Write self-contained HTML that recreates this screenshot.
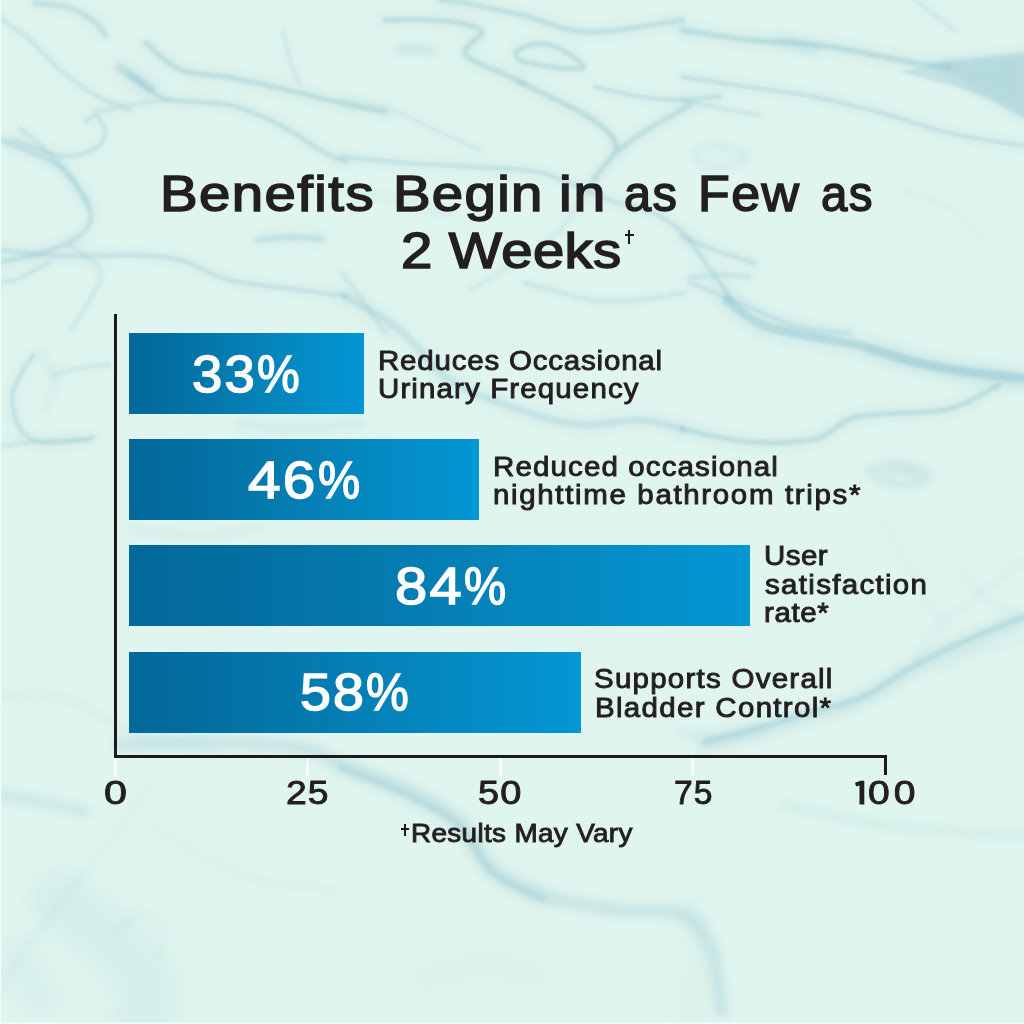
<!DOCTYPE html>
<html>
<head>
<meta charset="utf-8">
<title>Benefits Begin in as Few as 2 Weeks</title>
<style>
html,body{margin:0;padding:0;}
body{width:1024px;height:1024px;overflow:hidden;position:relative;background:#def3f0;font-family:"Liberation Sans",sans-serif;color:#231f20;}
#bg{position:absolute;left:0;top:0;width:1024px;height:1024px;}
.t{position:absolute;white-space:nowrap;line-height:1;transform-origin:0 0;margin:0;padding:0;}
.title{-webkit-text-stroke:1.6px #231f20;}
.lab{-webkit-text-stroke:0.9px #231f20;}
.pct{color:#fff;-webkit-text-stroke:1.4px #fff;}
.ax{-webkit-text-stroke:0.9px #231f20;}
.bar{position:absolute;left:129px;height:81px;background:linear-gradient(90deg,#03699a 0%,#036d9f 14%,#0580b6 52%,#0397d4 100%);}
.line{position:absolute;background:#1d1a1b;}
.tick{position:absolute;width:2.6px;height:17.5px;top:758.4px;background:#f3fcfa;opacity:.9;}
.dg{position:absolute;}
</style>
</head>
<body>
<svg id="bg" width="1024" height="1024" viewBox="0 0 1024 1024">
<defs>
<filter id="bs" filterUnits="userSpaceOnUse" x="-100" y="-100" width="1224" height="1224"><feGaussianBlur stdDeviation="1.0"/></filter>
<filter id="bm" filterUnits="userSpaceOnUse" x="-100" y="-100" width="1224" height="1224"><feGaussianBlur stdDeviation="1.5"/></filter>
<filter id="bl" filterUnits="userSpaceOnUse" x="-100" y="-100" width="1224" height="1224"><feGaussianBlur stdDeviation="4.5"/></filter>
<filter id="bx" filterUnits="userSpaceOnUse" x="-100" y="-100" width="1224" height="1224"><feGaussianBlur stdDeviation="10"/></filter>
<filter id="bh" filterUnits="userSpaceOnUse" x="-100" y="-100" width="1224" height="1224"><feGaussianBlur stdDeviation="6"/></filter>
</defs>
<rect width="1024" height="1024" fill="#e0f5ef"/>
<g filter="url(#bh)" fill="none" stroke="#8cc0ce" stroke-linecap="round" stroke-linejoin="round">
<path d="M0.0,18.0 C5.0,21.7 20.0,31.3 30.0,40.0 C40.0,48.7 49.2,60.8 60.0,70.0 C70.8,79.2 83.3,88.3 95.0,95.0 C106.7,101.7 124.2,107.5 130.0,110.0" stroke-width="12.0" opacity="0.075"/>
<path d="M35.0,3.0 C40.8,3.8 60.0,4.8 70.0,8.0 C80.0,11.2 89.2,17.5 95.0,22.0 C100.8,26.5 103.3,32.8 105.0,35.0" stroke-width="16.0" opacity="0.105"/>
<path d="M146.0,43.0 C149.2,45.8 158.2,55.2 165.0,60.0 C171.8,64.8 175.7,69.0 187.0,72.0 C198.3,75.0 214.2,74.5 233.0,78.0 C251.8,81.5 282.0,88.8 300.0,93.0 C318.0,97.2 326.8,99.8 341.0,103.0 C355.2,106.2 377.7,110.5 385.0,112.0" stroke-width="14.0" opacity="0.135"/>
<path d="M130.0,75.0 C133.3,77.5 143.3,85.8 150.0,90.0 C156.7,94.2 156.7,97.5 170.0,100.0 C183.3,102.5 211.7,100.8 230.0,105.0 C248.3,109.2 265.0,117.5 280.0,125.0 C295.0,132.5 309.2,143.8 320.0,150.0 C330.8,156.2 340.8,160.0 345.0,162.0" stroke-width="12.0" opacity="0.120"/>
<path d="M120.0,68.0 C123.0,70.0 133.0,76.7 138.0,80.0 C143.0,83.3 148.0,86.7 150.0,88.0" stroke-width="24.0" opacity="0.105"/>
<path d="M85.0,122.0 C87.0,121.0 93.7,113.8 97.0,116.0 C100.3,118.2 105.8,129.3 105.0,135.0 C104.2,140.7 99.2,146.5 92.0,150.0 C84.8,153.5 72.3,156.7 62.0,156.0 C51.7,155.3 38.3,148.7 30.0,146.0 C21.7,143.3 15.0,141.0 12.0,140.0" stroke-width="10.0" opacity="0.105"/>
<path d="M0.0,140.0 C5.0,142.0 20.0,147.5 30.0,152.0 C40.0,156.5 50.8,159.0 60.0,167.0 C69.2,175.0 80.0,190.8 85.0,200.0 C90.0,209.2 92.5,215.0 90.0,222.0 C87.5,229.0 80.0,236.3 70.0,242.0 C60.0,247.7 41.7,252.7 30.0,256.0 C18.3,259.3 5.0,261.0 0.0,262.0" stroke-width="14.0" opacity="0.105"/>
<path d="M20.0,128.0 C24.2,131.7 36.7,142.2 45.0,150.0 C53.3,157.8 62.5,165.8 70.0,175.0 C77.5,184.2 86.7,200.0 90.0,205.0" stroke-width="12.0" opacity="0.075"/>
<path d="M0.0,250.0 C10.0,251.0 38.3,255.2 60.0,256.0 C81.7,256.8 110.0,254.3 130.0,255.0 C150.0,255.7 163.3,255.8 180.0,260.0 C196.7,264.2 210.0,275.0 230.0,280.0 C250.0,285.0 280.8,287.3 300.0,290.0 C319.2,292.7 337.5,295.0 345.0,296.0" stroke-width="12.0" opacity="0.105"/>
<path d="M258.0,240.0 C263.3,239.5 279.3,237.2 290.0,237.0 C300.7,236.8 316.7,238.7 322.0,239.0" stroke-width="16.0" opacity="0.105"/>
<path d="M0.0,283.0 C3.3,282.2 11.7,281.5 20.0,278.0 C28.3,274.5 45.0,264.7 50.0,262.0" stroke-width="12.0" opacity="0.075"/>
<path d="M70.0,245.0 C75.0,249.2 96.7,260.8 100.0,270.0 C103.3,279.2 95.0,290.0 90.0,300.0 C85.0,310.0 73.3,325.0 70.0,330.0" stroke-width="12.0" opacity="0.060"/>
<path d="M283.0,30.0 C284.2,35.0 287.2,50.8 290.0,60.0 C292.8,69.2 298.3,80.8 300.0,85.0" stroke-width="10.0" opacity="0.060"/>
<path d="M170.0,100.0 C163.3,100.8 142.5,103.0 130.0,105.0 C117.5,107.0 100.8,110.8 95.0,112.0" stroke-width="10.0" opacity="0.075"/>
<path d="M440.0,0.0 C445.0,0.7 460.2,2.3 470.0,4.0 C479.8,5.7 489.2,7.8 499.0,10.0 C508.8,12.2 519.0,14.2 529.0,17.0 C539.0,19.8 549.7,24.5 559.0,27.0 C568.3,29.5 574.8,31.5 585.0,32.0 C595.2,32.5 603.7,32.0 620.0,30.0 C636.3,28.0 672.5,21.7 683.0,20.0" stroke-width="14.0" opacity="0.120"/>
<path d="M385.0,20.0 C392.5,20.0 416.7,19.3 430.0,20.0 C443.3,20.7 456.3,22.0 465.0,24.0 C473.7,26.0 481.2,28.7 482.0,32.0 C482.8,35.3 472.8,40.3 470.0,44.0 C467.2,47.7 463.3,50.7 465.0,54.0 C466.7,57.3 473.8,60.8 480.0,64.0 C486.2,67.2 495.0,69.8 502.0,73.0 C509.0,76.2 518.7,81.3 522.0,83.0" stroke-width="14.0" opacity="0.135"/>
<path d="M522.0,83.0 C525.3,84.7 532.0,88.0 542.0,93.0 C552.0,98.0 570.8,106.3 582.0,113.0 C593.2,119.7 603.3,126.8 609.0,133.0 C614.7,139.2 617.0,144.3 616.0,150.0 C615.0,155.7 606.5,162.3 603.0,167.0 C599.5,171.7 596.3,176.2 595.0,178.0" stroke-width="14.0" opacity="0.135"/>
<path d="M515.0,52.0 C517.5,50.8 524.2,46.2 530.0,45.0 C535.8,43.8 542.5,42.8 550.0,45.0 C557.5,47.2 569.5,54.2 575.0,58.0 C580.5,61.8 585.5,66.3 583.0,68.0 C580.5,69.7 568.0,68.7 560.0,68.0 C552.0,67.3 541.8,65.3 535.0,64.0 C528.2,62.7 522.3,62.0 519.0,60.0 C515.7,58.0 515.7,53.3 515.0,52.0" stroke-width="12.0" opacity="0.135"/>
<path d="M619.0,150.0 C622.8,147.2 633.7,138.5 642.0,133.0 C650.3,127.5 661.0,121.7 669.0,117.0 C677.0,112.3 686.5,107.0 690.0,105.0" stroke-width="14.0" opacity="0.120"/>
<path d="M595.0,87.0 C602.8,88.7 627.3,94.8 642.0,97.0 C656.7,99.2 670.0,100.2 683.0,100.0 C696.0,99.8 713.8,96.7 720.0,96.0" stroke-width="12.0" opacity="0.105"/>
<path d="M342.0,157.0 C353.2,158.0 386.8,161.3 409.0,163.0 C431.2,164.7 452.8,165.3 475.0,167.0 C497.2,168.7 519.7,167.5 542.0,173.0 C564.3,178.5 590.7,193.5 609.0,200.0 C627.3,206.5 639.7,206.5 652.0,212.0 C664.3,217.5 674.2,224.7 683.0,233.0 C691.8,241.3 696.8,250.8 705.0,262.0 C713.2,273.2 727.5,293.7 732.0,300.0" stroke-width="12.0" opacity="0.105"/>
<path d="M342.0,100.0 C350.3,101.7 375.3,104.5 392.0,110.0 C408.7,115.5 427.3,126.3 442.0,133.0 C456.7,139.7 473.7,147.2 480.0,150.0" stroke-width="10.0" opacity="0.060"/>
<path d="M342.0,273.0 C345.3,277.5 354.8,290.0 362.0,300.0 C369.2,310.0 381.2,327.5 385.0,333.0" stroke-width="12.0" opacity="0.075"/>
<path d="M525.0,283.0 C536.2,285.8 572.8,297.2 592.0,300.0 C611.2,302.8 624.8,301.2 640.0,300.0 C655.2,298.8 675.8,294.2 683.0,293.0" stroke-width="12.0" opacity="0.075"/>
<path d="M595.0,178.0 C589.2,186.7 572.5,216.3 560.0,230.0 C547.5,243.7 535.0,250.0 520.0,260.0 C505.0,270.0 478.3,285.0 470.0,290.0" stroke-width="12.0" opacity="0.054"/>
<path d="M682.0,30.0 C693.2,31.7 729.5,37.8 749.0,40.0 C768.5,42.2 782.3,41.3 799.0,43.0 C815.7,44.7 829.7,46.7 849.0,50.0 C868.3,53.3 898.3,60.2 915.0,63.0 C931.7,65.8 943.3,66.3 949.0,67.0" stroke-width="16.0" opacity="0.135"/>
<path d="M682.0,77.0 C693.2,78.7 726.8,83.7 749.0,87.0 C771.2,90.3 792.8,92.7 815.0,97.0 C837.2,101.3 859.7,107.0 882.0,113.0 C904.3,119.0 925.3,127.5 949.0,133.0 C972.7,138.5 1011.5,143.8 1024.0,146.0" stroke-width="12.0" opacity="0.105"/>
<path d="M682.0,100.0 C688.3,101.3 707.0,105.5 720.0,108.0 C733.0,110.5 753.3,113.8 760.0,115.0" stroke-width="10.0" opacity="0.075"/>
<path d="M682.0,236.0 C687.5,238.3 702.8,245.5 715.0,250.0 C727.2,254.5 748.3,260.8 755.0,263.0" stroke-width="12.0" opacity="0.105"/>
<path d="M690.0,278.0 C695.0,277.5 710.0,275.2 720.0,275.0 C730.0,274.8 745.0,276.7 750.0,277.0" stroke-width="12.0" opacity="0.090"/>
<path d="M690.0,283.0 C695.0,285.0 710.2,291.0 720.0,295.0 C729.8,299.0 735.8,301.7 749.0,307.0 C762.2,312.3 782.3,322.7 799.0,327.0 C815.7,331.3 840.7,332.0 849.0,333.0" stroke-width="12.0" opacity="0.090"/>
<path d="M915.0,0.0 C918.3,2.5 928.3,10.0 935.0,15.0 C941.7,20.0 951.7,27.5 955.0,30.0" stroke-width="12.0" opacity="0.060"/>
<path d="M33.0,355.0 C29.7,361.2 15.2,379.7 13.0,392.0 C10.8,404.3 15.0,420.7 20.0,429.0 C25.0,437.3 32.5,440.2 43.0,442.0 C53.5,443.8 74.7,440.8 83.0,440.0 C91.3,439.2 91.3,437.5 93.0,437.0" stroke-width="12.0" opacity="0.105"/>
<path d="M0.0,446.0 C5.5,445.3 18.0,443.2 33.0,442.0 C48.0,440.8 80.5,439.5 90.0,439.0" stroke-width="10.0" opacity="0.075"/>
<path d="M53.0,375.0 C57.5,373.8 70.5,369.7 80.0,368.0 C89.5,366.3 105.0,365.5 110.0,365.0" stroke-width="10.0" opacity="0.075"/>
<path d="M345.0,296.0 C354.2,301.7 382.5,316.0 400.0,330.0 C417.5,344.0 430.0,366.7 450.0,380.0 C470.0,393.3 498.3,402.5 520.0,410.0 C541.7,417.5 560.0,423.3 580.0,425.0 C600.0,426.7 623.0,419.3 640.0,420.0 C657.0,420.7 675.0,427.5 682.0,429.0" stroke-width="20.0" opacity="0.090"/>
<path d="M727.0,300.0 C732.8,304.2 746.5,318.7 762.0,325.0 C777.5,331.3 803.3,334.5 820.0,338.0 C836.7,341.5 846.2,342.0 862.0,346.0 C877.8,350.0 898.3,357.8 915.0,362.0 C931.7,366.2 943.8,368.3 962.0,371.0 C980.2,373.7 1013.7,376.8 1024.0,378.0" stroke-width="24.0" opacity="0.150"/>
<path d="M999.0,385.0 C990.7,389.0 968.5,404.2 949.0,409.0 C929.5,413.8 898.7,412.3 882.0,414.0 C865.3,415.7 860.2,414.8 849.0,419.0 C837.8,423.2 831.7,435.2 815.0,439.0 C798.3,442.8 771.2,443.7 749.0,442.0 C726.8,440.3 693.2,431.2 682.0,429.0" stroke-width="14.0" opacity="0.135"/>
<path d="M1024.0,617.0 C1013.7,621.2 980.7,633.7 962.0,642.0 C943.3,650.3 928.7,657.8 912.0,667.0 C895.3,676.2 878.7,689.5 862.0,697.0 C845.3,704.5 828.7,707.0 812.0,712.0 C795.3,717.0 779.8,722.0 762.0,727.0 C744.2,732.0 714.5,739.5 705.0,742.0" stroke-width="16.0" opacity="0.105"/>
<path d="M342.0,768.0 C353.2,772.7 389.5,786.3 409.0,796.0 C428.5,805.7 445.2,813.3 459.0,826.0 C472.8,838.7 478.2,859.8 492.0,872.0 C505.8,884.2 533.7,894.5 542.0,899.0" stroke-width="20.0" opacity="0.075"/>
<path d="M930,60 L1030,50 L1030,124 L992,102 L966,88 L946,72 Z" fill="#8cc0ce" stroke="none" opacity="0.28"/>
</g>
<g filter="url(#bx)" fill="none" stroke="#8cc0ce" stroke-linecap="round" stroke-linejoin="round">
<path d="M420.0,980.0 C430.0,977.5 460.0,965.8 480.0,965.0 C500.0,964.2 530.0,973.3 540.0,975.0" stroke-width="14.0" opacity="0.108"/>
<path d="M690.0,900.0 C691.7,910.0 700.0,939.3 700.0,960.0 C700.0,980.7 691.7,1013.3 690.0,1024.0" stroke-width="14.0" opacity="0.135"/>
<path d="M60.0,900.0 C68.3,906.7 95.0,925.0 110.0,940.0 C125.0,955.0 145.0,976.0 150.0,990.0 C155.0,1004.0 141.7,1018.3 140.0,1024.0" stroke-width="60.0" opacity="0.117"/>
<path d="M20.0,960.0 L40.0,1000.0" stroke-width="40.0" opacity="0.090"/>
</g>
<g filter="url(#bl)" fill="none" stroke="#8cc0ce" stroke-linecap="round" stroke-linejoin="round">
<path d="M400.0,50.0 C402.5,49.7 409.7,47.7 415.0,48.0 C420.3,48.3 429.2,51.3 432.0,52.0" stroke-width="8.0" opacity="0.315"/>
<path d="M347.0,190.0 C355.8,191.7 382.8,195.8 400.0,200.0 C417.2,204.2 441.7,212.5 450.0,215.0" stroke-width="5.0" opacity="0.180"/>
<path d="M780.0,40.0 C783.3,41.0 794.2,44.3 800.0,46.0 C805.8,47.7 812.5,49.3 815.0,50.0" stroke-width="9.0" opacity="0.270"/>
<path d="M695.0,150.0 C697.8,149.3 705.3,146.0 712.0,146.0 C718.7,146.0 729.0,148.0 735.0,150.0 C741.0,152.0 748.8,155.3 748.0,158.0 C747.2,160.7 737.2,165.0 730.0,166.0 C722.8,167.0 710.8,165.7 705.0,164.0 C699.2,162.3 696.7,157.3 695.0,156.0" stroke-width="5.0" opacity="0.270"/>
<path d="M899.0,190.0 C907.3,192.8 935.2,198.7 949.0,207.0 C962.8,215.3 976.5,234.5 982.0,240.0" stroke-width="4.0" opacity="0.135"/>
<path d="M40.0,352.0 C42.5,356.7 54.2,370.3 55.0,380.0 C55.8,389.7 46.7,405.0 45.0,410.0" stroke-width="5.0" opacity="0.180"/>
<path d="M240.0,425.0 C250.0,425.5 280.0,428.2 300.0,428.0 C320.0,427.8 350.0,424.7 360.0,424.0" stroke-width="10.0" opacity="0.180"/>
<path d="M130.0,530.0 C141.7,530.8 178.3,535.3 200.0,535.0 C221.7,534.7 250.0,529.2 260.0,528.0" stroke-width="8.0" opacity="0.135"/>
<path d="M870.0,350.0 C880.0,352.7 910.0,361.7 930.0,366.0 C950.0,370.3 974.3,373.5 990.0,376.0 C1005.7,378.5 1018.3,380.2 1024.0,381.0" stroke-width="9.0" opacity="0.270"/>
<path d="M870.0,470.0 C873.3,469.0 882.5,464.3 890.0,464.0 C897.5,463.7 908.3,466.0 915.0,468.0 C921.7,470.0 930.8,473.3 930.0,476.0 C929.2,478.7 917.5,483.0 910.0,484.0 C902.5,485.0 891.7,483.7 885.0,482.0 C878.3,480.3 872.5,475.3 870.0,474.0" stroke-width="7.0" opacity="0.270"/>
<path d="M888.0,472.0 C890.3,471.7 897.5,469.7 902.0,470.0 C906.5,470.3 912.8,473.3 915.0,474.0" stroke-width="6.0" opacity="0.270"/>
<path d="M882.0,515.0 C885.8,522.5 896.7,544.3 905.0,560.0 C913.3,575.7 924.7,597.5 932.0,609.0 C939.3,620.5 946.2,625.7 949.0,629.0" stroke-width="4.0" opacity="0.135"/>
<path d="M1024.0,640.0 C1015.8,642.0 989.0,646.7 975.0,652.0 C961.0,657.3 945.8,668.7 940.0,672.0" stroke-width="4.0" opacity="0.180"/>
<path d="M1024.0,620.0 C1013.7,624.2 980.7,636.7 962.0,645.0 C943.3,653.3 928.7,660.8 912.0,670.0 C895.3,679.2 878.7,692.3 862.0,700.0 C845.3,707.7 828.7,711.0 812.0,716.0 C795.3,721.0 779.8,725.3 762.0,730.0 C744.2,734.7 714.5,741.7 705.0,744.0" stroke-width="14.0" opacity="0.144"/>
<path d="M1024.0,560.0 C1017.5,565.0 999.0,579.2 985.0,590.0 C971.0,600.8 951.7,613.3 940.0,625.0 C928.3,636.7 919.2,654.2 915.0,660.0" stroke-width="6.0" opacity="0.126"/>
<path d="M1024.0,619.0 C1018.3,615.8 1000.7,608.2 990.0,600.0 C979.3,591.8 965.0,575.0 960.0,570.0" stroke-width="4.0" opacity="0.135"/>
<path d="M0.0,695.0 C11.2,695.7 48.7,694.5 67.0,699.0 C85.3,703.5 94.5,714.8 110.0,722.0 C125.5,729.2 142.2,737.0 160.0,742.0 C177.8,747.0 207.5,750.3 217.0,752.0" stroke-width="5.0" opacity="0.162"/>
<path d="M0.0,795.0 C5.0,795.8 20.0,798.2 30.0,800.0 C40.0,801.8 50.8,804.0 60.0,806.0 C69.2,808.0 80.8,811.0 85.0,812.0" stroke-width="12.0" opacity="0.225"/>
<path d="M150.0,782.0 C144.5,790.3 133.7,809.8 117.0,832.0 C100.3,854.2 69.5,888.7 50.0,915.0 C30.5,941.3 8.3,977.5 0.0,990.0" stroke-width="5.0" opacity="0.108"/>
<path d="M150.0,825.0 C158.3,830.0 180.5,845.5 200.0,855.0 C219.5,864.5 243.5,876.3 267.0,882.0 C290.5,887.7 328.7,887.8 341.0,889.0" stroke-width="5.0" opacity="0.108"/>
<path d="M115.0,930.0 C119.2,927.5 131.7,915.8 140.0,915.0 C148.3,914.2 161.7,919.2 165.0,925.0 C168.3,930.8 160.8,945.8 160.0,950.0" stroke-width="5.0" opacity="0.108"/>
<path d="M120.0,745.0 C133.3,744.5 170.0,741.5 200.0,742.0 C230.0,742.5 276.3,744.2 300.0,748.0 C323.7,751.8 323.8,757.7 342.0,765.0 C360.2,772.3 389.5,782.5 409.0,792.0 C428.5,801.5 445.2,809.2 459.0,822.0 C472.8,834.8 478.2,856.8 492.0,869.0 C505.8,881.2 522.5,888.3 542.0,895.0 C561.5,901.7 585.5,905.7 609.0,909.0 C632.5,912.3 665.8,907.8 683.0,915.0 C700.2,922.2 705.5,935.8 712.0,952.0 C718.5,968.2 720.3,1002.0 722.0,1012.0" stroke-width="14.0" opacity="0.270"/>
<path d="M682.0,732.0 C688.3,733.0 707.0,738.3 720.0,738.0 C733.0,737.7 753.3,731.3 760.0,730.0" stroke-width="10.0" opacity="0.135"/>
<path d="M782.0,805.0 C798.7,808.3 852.3,820.5 882.0,825.0 C911.7,829.5 936.3,830.3 960.0,832.0 C983.7,833.7 1013.3,834.5 1024.0,835.0" stroke-width="10.0" opacity="0.135"/>
</g>
<g filter="url(#bm)" fill="none" stroke="#8cc0ce" stroke-linecap="round" stroke-linejoin="round">
<path d="M0.0,18.0 C5.0,21.7 20.0,31.3 30.0,40.0 C40.0,48.7 49.2,60.8 60.0,70.0 C70.8,79.2 83.3,88.3 95.0,95.0 C106.7,101.7 124.2,107.5 130.0,110.0" stroke-width="4.5" opacity="0.200"/>
<path d="M35.0,3.0 C40.8,3.8 60.0,4.8 70.0,8.0 C80.0,11.2 89.2,17.5 95.0,22.0 C100.8,26.5 103.3,32.8 105.0,35.0" stroke-width="6.0" opacity="0.280"/>
<path d="M146.0,43.0 C149.2,45.8 158.2,55.2 165.0,60.0 C171.8,64.8 175.7,69.0 187.0,72.0 C198.3,75.0 214.2,74.5 233.0,78.0 C251.8,81.5 282.0,88.8 300.0,93.0 C318.0,97.2 326.8,99.8 341.0,103.0 C355.2,106.2 377.7,110.5 385.0,112.0" stroke-width="5.2" opacity="0.360"/>
<path d="M130.0,75.0 C133.3,77.5 143.3,85.8 150.0,90.0 C156.7,94.2 156.7,97.5 170.0,100.0 C183.3,102.5 211.7,100.8 230.0,105.0 C248.3,109.2 265.0,117.5 280.0,125.0 C295.0,132.5 309.2,143.8 320.0,150.0 C330.8,156.2 340.8,160.0 345.0,162.0" stroke-width="4.5" opacity="0.320"/>
<path d="M120.0,68.0 C123.0,70.0 133.0,76.7 138.0,80.0 C143.0,83.3 148.0,86.7 150.0,88.0" stroke-width="9.0" opacity="0.280"/>
<path d="M85.0,122.0 C87.0,121.0 93.7,113.8 97.0,116.0 C100.3,118.2 105.8,129.3 105.0,135.0 C104.2,140.7 99.2,146.5 92.0,150.0 C84.8,153.5 72.3,156.7 62.0,156.0 C51.7,155.3 38.3,148.7 30.0,146.0 C21.7,143.3 15.0,141.0 12.0,140.0" stroke-width="3.8" opacity="0.280"/>
<path d="M0.0,140.0 C5.0,142.0 20.0,147.5 30.0,152.0 C40.0,156.5 50.8,159.0 60.0,167.0 C69.2,175.0 80.0,190.8 85.0,200.0 C90.0,209.2 92.5,215.0 90.0,222.0 C87.5,229.0 80.0,236.3 70.0,242.0 C60.0,247.7 41.7,252.7 30.0,256.0 C18.3,259.3 5.0,261.0 0.0,262.0" stroke-width="5.2" opacity="0.280"/>
<path d="M20.0,128.0 C24.2,131.7 36.7,142.2 45.0,150.0 C53.3,157.8 62.5,165.8 70.0,175.0 C77.5,184.2 86.7,200.0 90.0,205.0" stroke-width="4.5" opacity="0.200"/>
<path d="M0.0,250.0 C10.0,251.0 38.3,255.2 60.0,256.0 C81.7,256.8 110.0,254.3 130.0,255.0 C150.0,255.7 163.3,255.8 180.0,260.0 C196.7,264.2 210.0,275.0 230.0,280.0 C250.0,285.0 280.8,287.3 300.0,290.0 C319.2,292.7 337.5,295.0 345.0,296.0" stroke-width="4.5" opacity="0.280"/>
<path d="M258.0,240.0 C263.3,239.5 279.3,237.2 290.0,237.0 C300.7,236.8 316.7,238.7 322.0,239.0" stroke-width="6.0" opacity="0.280"/>
<path d="M0.0,283.0 C3.3,282.2 11.7,281.5 20.0,278.0 C28.3,274.5 45.0,264.7 50.0,262.0" stroke-width="4.5" opacity="0.200"/>
<path d="M70.0,245.0 C75.0,249.2 96.7,260.8 100.0,270.0 C103.3,279.2 95.0,290.0 90.0,300.0 C85.0,310.0 73.3,325.0 70.0,330.0" stroke-width="4.5" opacity="0.160"/>
<path d="M283.0,30.0 C284.2,35.0 287.2,50.8 290.0,60.0 C292.8,69.2 298.3,80.8 300.0,85.0" stroke-width="3.8" opacity="0.160"/>
<path d="M170.0,100.0 C163.3,100.8 142.5,103.0 130.0,105.0 C117.5,107.0 100.8,110.8 95.0,112.0" stroke-width="3.8" opacity="0.200"/>
<path d="M440.0,0.0 C445.0,0.7 460.2,2.3 470.0,4.0 C479.8,5.7 489.2,7.8 499.0,10.0 C508.8,12.2 519.0,14.2 529.0,17.0 C539.0,19.8 549.7,24.5 559.0,27.0 C568.3,29.5 574.8,31.5 585.0,32.0 C595.2,32.5 603.7,32.0 620.0,30.0 C636.3,28.0 672.5,21.7 683.0,20.0" stroke-width="5.2" opacity="0.320"/>
<path d="M385.0,20.0 C392.5,20.0 416.7,19.3 430.0,20.0 C443.3,20.7 456.3,22.0 465.0,24.0 C473.7,26.0 481.2,28.7 482.0,32.0 C482.8,35.3 472.8,40.3 470.0,44.0 C467.2,47.7 463.3,50.7 465.0,54.0 C466.7,57.3 473.8,60.8 480.0,64.0 C486.2,67.2 495.0,69.8 502.0,73.0 C509.0,76.2 518.7,81.3 522.0,83.0" stroke-width="5.2" opacity="0.360"/>
<path d="M522.0,83.0 C525.3,84.7 532.0,88.0 542.0,93.0 C552.0,98.0 570.8,106.3 582.0,113.0 C593.2,119.7 603.3,126.8 609.0,133.0 C614.7,139.2 617.0,144.3 616.0,150.0 C615.0,155.7 606.5,162.3 603.0,167.0 C599.5,171.7 596.3,176.2 595.0,178.0" stroke-width="5.2" opacity="0.360"/>
<path d="M515.0,52.0 C517.5,50.8 524.2,46.2 530.0,45.0 C535.8,43.8 542.5,42.8 550.0,45.0 C557.5,47.2 569.5,54.2 575.0,58.0 C580.5,61.8 585.5,66.3 583.0,68.0 C580.5,69.7 568.0,68.7 560.0,68.0 C552.0,67.3 541.8,65.3 535.0,64.0 C528.2,62.7 522.3,62.0 519.0,60.0 C515.7,58.0 515.7,53.3 515.0,52.0" stroke-width="4.5" opacity="0.360"/>
<path d="M619.0,150.0 C622.8,147.2 633.7,138.5 642.0,133.0 C650.3,127.5 661.0,121.7 669.0,117.0 C677.0,112.3 686.5,107.0 690.0,105.0" stroke-width="5.2" opacity="0.320"/>
<path d="M595.0,87.0 C602.8,88.7 627.3,94.8 642.0,97.0 C656.7,99.2 670.0,100.2 683.0,100.0 C696.0,99.8 713.8,96.7 720.0,96.0" stroke-width="4.5" opacity="0.280"/>
<path d="M342.0,157.0 C353.2,158.0 386.8,161.3 409.0,163.0 C431.2,164.7 452.8,165.3 475.0,167.0 C497.2,168.7 519.7,167.5 542.0,173.0 C564.3,178.5 590.7,193.5 609.0,200.0 C627.3,206.5 639.7,206.5 652.0,212.0 C664.3,217.5 674.2,224.7 683.0,233.0 C691.8,241.3 696.8,250.8 705.0,262.0 C713.2,273.2 727.5,293.7 732.0,300.0" stroke-width="4.5" opacity="0.280"/>
<path d="M342.0,100.0 C350.3,101.7 375.3,104.5 392.0,110.0 C408.7,115.5 427.3,126.3 442.0,133.0 C456.7,139.7 473.7,147.2 480.0,150.0" stroke-width="3.8" opacity="0.160"/>
<path d="M342.0,273.0 C345.3,277.5 354.8,290.0 362.0,300.0 C369.2,310.0 381.2,327.5 385.0,333.0" stroke-width="4.5" opacity="0.200"/>
<path d="M525.0,283.0 C536.2,285.8 572.8,297.2 592.0,300.0 C611.2,302.8 624.8,301.2 640.0,300.0 C655.2,298.8 675.8,294.2 683.0,293.0" stroke-width="4.5" opacity="0.200"/>
<path d="M595.0,178.0 C589.2,186.7 572.5,216.3 560.0,230.0 C547.5,243.7 535.0,250.0 520.0,260.0 C505.0,270.0 478.3,285.0 470.0,290.0" stroke-width="4.5" opacity="0.144"/>
<path d="M682.0,30.0 C693.2,31.7 729.5,37.8 749.0,40.0 C768.5,42.2 782.3,41.3 799.0,43.0 C815.7,44.7 829.7,46.7 849.0,50.0 C868.3,53.3 898.3,60.2 915.0,63.0 C931.7,65.8 943.3,66.3 949.0,67.0" stroke-width="6.0" opacity="0.360"/>
<path d="M682.0,77.0 C693.2,78.7 726.8,83.7 749.0,87.0 C771.2,90.3 792.8,92.7 815.0,97.0 C837.2,101.3 859.7,107.0 882.0,113.0 C904.3,119.0 925.3,127.5 949.0,133.0 C972.7,138.5 1011.5,143.8 1024.0,146.0" stroke-width="4.5" opacity="0.280"/>
<path d="M682.0,100.0 C688.3,101.3 707.0,105.5 720.0,108.0 C733.0,110.5 753.3,113.8 760.0,115.0" stroke-width="3.8" opacity="0.200"/>
<path d="M682.0,236.0 C687.5,238.3 702.8,245.5 715.0,250.0 C727.2,254.5 748.3,260.8 755.0,263.0" stroke-width="4.5" opacity="0.280"/>
<path d="M690.0,278.0 C695.0,277.5 710.0,275.2 720.0,275.0 C730.0,274.8 745.0,276.7 750.0,277.0" stroke-width="4.5" opacity="0.240"/>
<path d="M690.0,283.0 C695.0,285.0 710.2,291.0 720.0,295.0 C729.8,299.0 735.8,301.7 749.0,307.0 C762.2,312.3 782.3,322.7 799.0,327.0 C815.7,331.3 840.7,332.0 849.0,333.0" stroke-width="4.5" opacity="0.240"/>
<path d="M915.0,0.0 C918.3,2.5 928.3,10.0 935.0,15.0 C941.7,20.0 951.7,27.5 955.0,30.0" stroke-width="4.5" opacity="0.160"/>
<path d="M33.0,355.0 C29.7,361.2 15.2,379.7 13.0,392.0 C10.8,404.3 15.0,420.7 20.0,429.0 C25.0,437.3 32.5,440.2 43.0,442.0 C53.5,443.8 74.7,440.8 83.0,440.0 C91.3,439.2 91.3,437.5 93.0,437.0" stroke-width="4.5" opacity="0.280"/>
<path d="M0.0,446.0 C5.5,445.3 18.0,443.2 33.0,442.0 C48.0,440.8 80.5,439.5 90.0,439.0" stroke-width="3.8" opacity="0.200"/>
<path d="M53.0,375.0 C57.5,373.8 70.5,369.7 80.0,368.0 C89.5,366.3 105.0,365.5 110.0,365.0" stroke-width="3.8" opacity="0.200"/>
<path d="M345.0,296.0 C354.2,301.7 382.5,316.0 400.0,330.0 C417.5,344.0 430.0,366.7 450.0,380.0 C470.0,393.3 498.3,402.5 520.0,410.0 C541.7,417.5 560.0,423.3 580.0,425.0 C600.0,426.7 623.0,419.3 640.0,420.0 C657.0,420.7 675.0,427.5 682.0,429.0" stroke-width="7.5" opacity="0.240"/>
<path d="M727.0,300.0 C732.8,304.2 746.5,318.7 762.0,325.0 C777.5,331.3 803.3,334.5 820.0,338.0 C836.7,341.5 846.2,342.0 862.0,346.0 C877.8,350.0 898.3,357.8 915.0,362.0 C931.7,366.2 943.8,368.3 962.0,371.0 C980.2,373.7 1013.7,376.8 1024.0,378.0" stroke-width="9.0" opacity="0.400"/>
<path d="M999.0,385.0 C990.7,389.0 968.5,404.2 949.0,409.0 C929.5,413.8 898.7,412.3 882.0,414.0 C865.3,415.7 860.2,414.8 849.0,419.0 C837.8,423.2 831.7,435.2 815.0,439.0 C798.3,442.8 771.2,443.7 749.0,442.0 C726.8,440.3 693.2,431.2 682.0,429.0" stroke-width="5.2" opacity="0.360"/>
<path d="M1024.0,617.0 C1013.7,621.2 980.7,633.7 962.0,642.0 C943.3,650.3 928.7,657.8 912.0,667.0 C895.3,676.2 878.7,689.5 862.0,697.0 C845.3,704.5 828.7,707.0 812.0,712.0 C795.3,717.0 779.8,722.0 762.0,727.0 C744.2,732.0 714.5,739.5 705.0,742.0" stroke-width="6.0" opacity="0.280"/>
<path d="M342.0,768.0 C353.2,772.7 389.5,786.3 409.0,796.0 C428.5,805.7 445.2,813.3 459.0,826.0 C472.8,838.7 478.2,859.8 492.0,872.0 C505.8,884.2 533.7,894.5 542.0,899.0" stroke-width="7.5" opacity="0.200"/>
<path d="M900,72 L940,62 L1030,52 L1030,122 L992,100 L960,88 Z" fill="#8cc0ce" stroke="none" opacity="0.3"/>
</g>
<g filter="url(#bs)" fill="none" stroke="#8cc0ce" stroke-linecap="round" stroke-linejoin="round">
</g>
<rect x="0" y="0" width="1.2" height="1024" fill="#f0fffc" opacity="0.85"/>
<rect x="0" y="1022.4" width="1024" height="1.6" fill="#f0fffc" opacity="0.8"/><rect x="0" y="1017" width="1024" height="1.2" fill="#f0fffc" opacity="0.25"/>
</svg>
<div class="t title" id="t1a" style="left:160.02px;top:169.0px;font-size:50.3px;letter-spacing:1.278px;transform:scaleX(1.12);">Benefits</div>
<div class="t title" id="t1b" style="left:392.87px;top:169.0px;font-size:50.3px;letter-spacing:1.162px;transform:scaleX(1.12);">Begin</div>
<div class="t title" id="t1c" style="left:559.29px;top:169.0px;font-size:50.3px;letter-spacing:1.5px;transform:scaleX(1.1369);">in</div>
<div class="t title" id="t1d" style="left:623.65px;top:169.0px;font-size:50.3px;letter-spacing:1.5px;transform:scaleX(0.9696);">as</div>
<div class="t title" id="t1e" style="left:697.81px;top:169.0px;font-size:50.3px;letter-spacing:1.5px;transform:scaleX(1.0311);">Few</div>
<div class="t title" id="t1f" style="left:820.7px;top:169.0px;font-size:50.3px;letter-spacing:1.5px;transform:scaleX(0.9425);">as</div>
<div class="t title" id="t2" style="left:400.56px;top:226.0px;font-size:50.3px;letter-spacing:0.317px;transform:scaleX(1.12);">2 Weeks</div>
<div class="dg" id="dg1" style="left:624.6px;top:229.5px;width:9.1px;height:14.2px;"><div class="line" style="left:3.55px;top:0;width:2.0px;height:14.2px;"></div><div class="line" style="left:0;top:4.26px;width:9.1px;height:2.0px;"></div></div>
<div class="bar" style="top:333.1px;width:234.5px;"></div>
<div class="bar" style="top:439.2px;width:349.7px;"></div>
<div class="bar" style="top:545.3px;width:620.9px;"></div>
<div class="bar" style="top:651.5px;width:452.2px;"></div>
<div class="t pct" id="p1" style="left:191.8px;top:349.0px;font-size:51px;letter-spacing:2.0px;transform:scaleX(1.0683);">33</div>
<div class="t pct" id="p1p" style="left:256.84px;top:349.0px;font-size:51px;transform:scaleX(0.9431);">%</div>
<div class="t pct" id="p2" style="left:247.55px;top:455.0px;font-size:51px;letter-spacing:2.0px;transform:scaleX(1.1481);">46</div>
<div class="t pct" id="p2p" style="left:317.71px;top:455.0px;font-size:51px;transform:scaleX(0.9296);">%</div>
<div class="t pct" id="p3" style="left:394.74px;top:561.0px;font-size:51px;letter-spacing:2.0px;transform:scaleX(1.1346);">84</div>
<div class="t pct" id="p3p" style="left:464.46px;top:561.0px;font-size:51px;transform:scaleX(0.9296);">%</div>
<div class="t pct" id="p4" style="left:300.4px;top:667.0px;font-size:51px;letter-spacing:2.0px;transform:scaleX(1.0903);">58</div>
<div class="t pct" id="p4p" style="left:365.94px;top:667.0px;font-size:51px;transform:scaleX(0.9431);">%</div>
<div class="t lab" id="l1a" style="left:377.77px;top:348.0px;font-size:26.8px;letter-spacing:0.737px;transform:scaleX(1.1);">Reduces Occasional</div>
<div class="t lab" id="l1b" style="left:377.87px;top:376.0px;font-size:26.8px;letter-spacing:1.026px;transform:scaleX(1.1);">Urinary Frequency</div>
<div class="t lab" id="l2a" style="left:492.77px;top:454.0px;font-size:26.8px;letter-spacing:1.033px;transform:scaleX(1.1);">Reduced occasional</div>
<div class="t lab" id="l2b" style="left:493.12px;top:482.0px;font-size:26.8px;letter-spacing:1.505px;transform:scaleX(1.1);">nighttime bathroom trips*</div>
<div class="t lab" id="l3a" style="left:764.07px;top:543.0px;font-size:26.8px;letter-spacing:0.42px;transform:scaleX(1.1);">User</div>
<div class="t lab" id="l3b" style="left:764.95px;top:572.0px;font-size:26.8px;letter-spacing:1.199px;transform:scaleX(1.1);">satisfaction</div>
<div class="t lab" id="l3c" style="left:764.32px;top:600.0px;font-size:26.8px;letter-spacing:0.533px;transform:scaleX(1.1);">rate*</div>
<div class="t lab" id="l4a" style="left:594.47px;top:666.0px;font-size:26.8px;letter-spacing:1.144px;transform:scaleX(1.1);">Supports Overall</div>
<div class="t lab" id="l4b" style="left:594.77px;top:695.0px;font-size:26.8px;letter-spacing:1.196px;transform:scaleX(1.1);">Bladder Control*</div>
<div class="line" style="left:114px;top:314px;width:3.2px;height:444px;"></div>
<div class="line" style="left:114px;top:755.2px;width:773px;height:3.3px;"></div>
<div class="line" style="left:883.7px;top:755.2px;width:3.1px;height:20.2px;"></div>
<div class="tick" style="left:114.2px;"></div>
<div class="tick" style="left:306.4px;"></div>
<div class="tick" style="left:499px;"></div>
<div class="tick" style="left:691px;"></div>
<svg id="one" style="position:absolute;left:850px;top:776px;" width="20" height="32" viewBox="850 776 20 32"><polygon fill="#231f20" points="864.3,780.8 864.3,804.6 859.5,804.6 859.5,785.4 856.1,786.5 855,782.7 860.6,780.8"/></svg>
<div class="t ax" id="a0" style="left:103.86px;top:775.0px;font-size:34px;transform:scaleX(1.2152);">0</div>
<div class="t ax" id="a25" style="left:286.42px;top:775.0px;font-size:34px;letter-spacing:1.0px;transform:scaleX(1.0973);">25</div>
<div class="t ax" id="a50" style="left:478.29px;top:775.0px;font-size:34px;letter-spacing:1.0px;transform:scaleX(1.1158);">50</div>
<div class="t ax" id="a75" style="left:674.05px;top:775.0px;font-size:34px;letter-spacing:1.0px;transform:scaleX(0.9881);">75</div>
<div class="t ax" id="a100" style="left:868.01px;top:775.0px;font-size:34px;letter-spacing:3.5px;transform:scaleX(1.1487);">00</div>
<div class="t lab" id="fn" style="left:411.07px;top:821.0px;font-size:25.8px;letter-spacing:0.319px;transform:scaleX(1.08);">Results May Vary</div>
<div class="dg" id="dg2" style="left:401.4px;top:824.3px;width:7.5px;height:12px;"><div class="line" style="left:2.8px;top:0;width:1.9px;height:12px;"></div><div class="line" style="left:0;top:3.5999999999999996px;width:7.5px;height:1.9px;"></div></div>
</body>
</html>
